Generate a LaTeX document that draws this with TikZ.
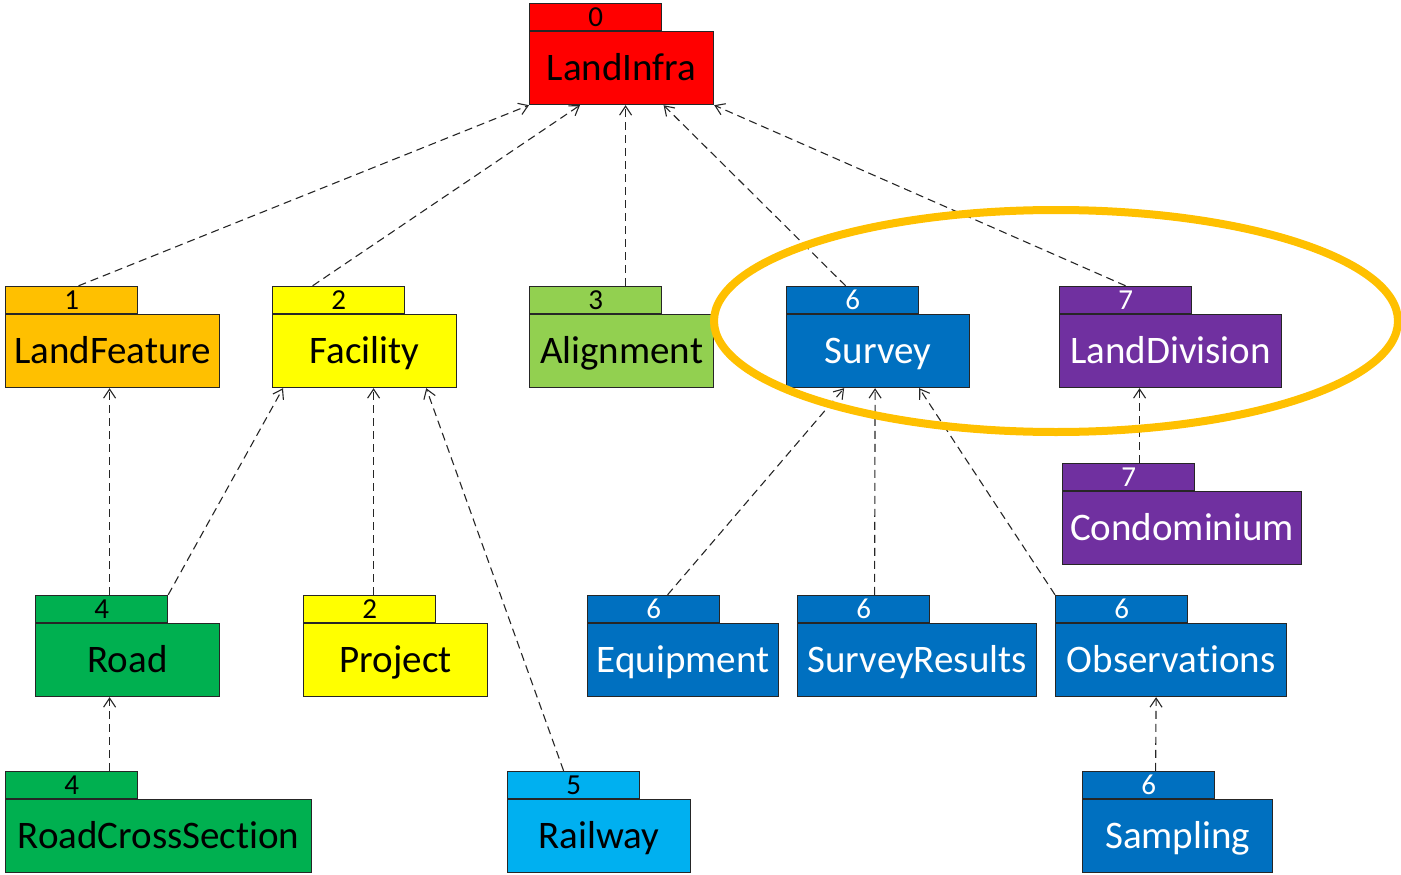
\documentclass[tikz,border=0pt]{standalone}
\usepackage{fontspec}
\setmainfont{Carlito}[Ligatures=NoCommon]
\usepackage{tikz}
\usepackage{xcolor}
\usetikzlibrary{arrows.meta}
\definecolor{pkg-red}{HTML}{FF0000}
\definecolor{pkg-orange}{HTML}{FFC000}
\definecolor{pkg-yellow}{HTML}{FFFF00}
\definecolor{pkg-lime}{HTML}{92D050}
\definecolor{pkg-green}{HTML}{00B050}
\definecolor{pkg-blue}{HTML}{0070C0}
\definecolor{pkg-sky}{HTML}{00B0F0}
\definecolor{pkg-purple}{HTML}{7030A0}
\definecolor{pkg-line}{HTML}{262626}
\newcommand{\bodyfont}{\fontsize{39}{47}\selectfont}
\newcommand{\tabfont}{\fontsize{29}{34}\selectfont}
\tikzset{
    pkg-body/.style = {draw=pkg-line, fill=#1, line width=1.2pt, rectangle, anchor=north west, minimum height=73pt, inner sep=0pt, text height=33pt, text depth=8pt, font=\bodyfont},
    pkg-tab/.style = {draw=pkg-line, fill=#1, line width=1.2pt, rectangle, anchor=south west, minimum width=132pt, minimum height=27pt, inner sep=0pt, text height=23pt, text depth=4pt, font=\tabfont},
    dep/.style = {draw=black!85, line width=1.1pt, dash pattern=on 8pt off 5pt, -{Straight Barb[length=9pt, width=12pt, line width=1.1pt]}},
    highlight/.style = {draw=pkg-orange, line width=8pt},
}

\begin{document}
\begin{tikzpicture}[x={(1pt,0)}, y={(0,-1pt)}]
\useasboundingbox (0,0) rectangle (1401,875);

% packages
\node[pkg-body=pkg-red, minimum width=184pt] (landinfra) at (529,31) {LandInfra};
\node[pkg-tab=pkg-red] (landinfra-tab) at (landinfra.north west) {0};

\node[pkg-body=pkg-orange, minimum width=214pt] (landfeature) at (5,314) {LandFeature};
\node[pkg-tab=pkg-orange] (landfeature-tab) at (landfeature.north west) {1};

\node[pkg-body=pkg-yellow, minimum width=184pt] (facility) at (272,314) {Facility};
\node[pkg-tab=pkg-yellow] (facility-tab) at (facility.north west) {2};

\node[pkg-body=pkg-lime, minimum width=184pt] (alignment) at (529,314) {Alignment};
\node[pkg-tab=pkg-lime] (alignment-tab) at (alignment.north west) {3};

\node[pkg-body=pkg-blue, text=white, minimum width=183pt] (survey) at (786,314) {Survey};
\node[pkg-tab=pkg-blue, text=white] (survey-tab) at (survey.north west) {6};

\node[pkg-body=pkg-purple, text=white, minimum width=222pt] (landdivision) at (1059,314) {LandDivision};
\node[pkg-tab=pkg-purple, text=white] (landdivision-tab) at (landdivision.north west) {7};

\node[pkg-body=pkg-purple, text=white, minimum width=239pt] (condominium) at (1062,491) {Condominium};
\node[pkg-tab=pkg-purple, text=white] (condominium-tab) at (condominium.north west) {7};

\node[pkg-body=pkg-green, minimum width=184pt] (road) at (35,623) {Road};
\node[pkg-tab=pkg-green] (road-tab) at (road.north west) {4};

\node[pkg-body=pkg-yellow, minimum width=184pt] (project) at (303,623) {Project};
\node[pkg-tab=pkg-yellow] (project-tab) at (project.north west) {2};

\node[pkg-body=pkg-blue, text=white, minimum width=191pt] (equipment) at (587,623) {Equipment};
\node[pkg-tab=pkg-blue, text=white] (equipment-tab) at (equipment.north west) {6};

\node[pkg-body=pkg-blue, text=white, minimum width=239pt] (surveyresults) at (797,623) {SurveyResults};
\node[pkg-tab=pkg-blue, text=white] (surveyresults-tab) at (surveyresults.north west) {6};

\node[pkg-body=pkg-blue, text=white, minimum width=231pt] (observations) at (1055,623) {Observations};
\node[pkg-tab=pkg-blue, text=white] (observations-tab) at (observations.north west) {6};

\node[pkg-body=pkg-green, minimum width=306pt] (roadcrosssection) at (5,799) {RoadCrossSection};
\node[pkg-tab=pkg-green] (roadcrosssection-tab) at (roadcrosssection.north west) {4};

\node[pkg-body=pkg-sky, minimum width=183pt] (railway) at (507,799) {Railway};
\node[pkg-tab=pkg-sky] (railway-tab) at (railway.north west) {5};

\node[pkg-body=pkg-blue, text=white, minimum width=190pt] (sampling) at (1082,799) {Sampling};
\node[pkg-tab=pkg-blue, text=white] (sampling-tab) at (sampling.north west) {6};

% dependencies
\draw[dep] ([xshift=7pt]landfeature-tab.north) -- (landinfra.south west);
\draw[dep] ([xshift=-26pt]facility-tab.north) -- ([xshift=51pt]landinfra.south west);
\draw[dep] ([xshift=30pt]alignment-tab.north) -- ([xshift=4pt]landinfra.south);
\draw[dep] ([xshift=-7pt]survey-tab.north) -- ([xshift=42pt]landinfra.south);
\draw[dep] (landdivision-tab.north) -- (landinfra.south east);

\draw[dep] ([xshift=8pt]road-tab.north) -- ([xshift=-3pt]landfeature.south);
\draw[dep] (road-tab.north east) -- ([xshift=11pt]facility.south west);
\draw[dep] ([xshift=4pt]project-tab.north) -- ([xshift=9pt]facility.south);
\draw[dep] ([xshift=-10pt]railway-tab.north) -- ([xshift=-31pt]facility.south east);
\draw[dep] ([xshift=38pt]roadcrosssection-tab.north) -- ([xshift=-18pt]road.south);

\draw[dep] ([xshift=14pt]equipment-tab.north) -- ([xshift=-34pt]survey.south);
\draw[dep] ([xshift=11pt]surveyresults-tab.north) -- ([xshift=-3pt]survey.south);
\draw[dep] (observations-tab.north west) -- ([xshift=-51pt]survey.south east);
\draw[dep] ([xshift=11pt]condominium-tab.north) -- ([xshift=-31pt]landdivision.south);
\draw[dep] ([xshift=7pt]sampling-tab.north) -- ([xshift=-15pt]observations.south);

% highlight
\draw[highlight] (1056,321) ellipse [x radius=342, y radius=111];
\end{tikzpicture}
\end{document}
